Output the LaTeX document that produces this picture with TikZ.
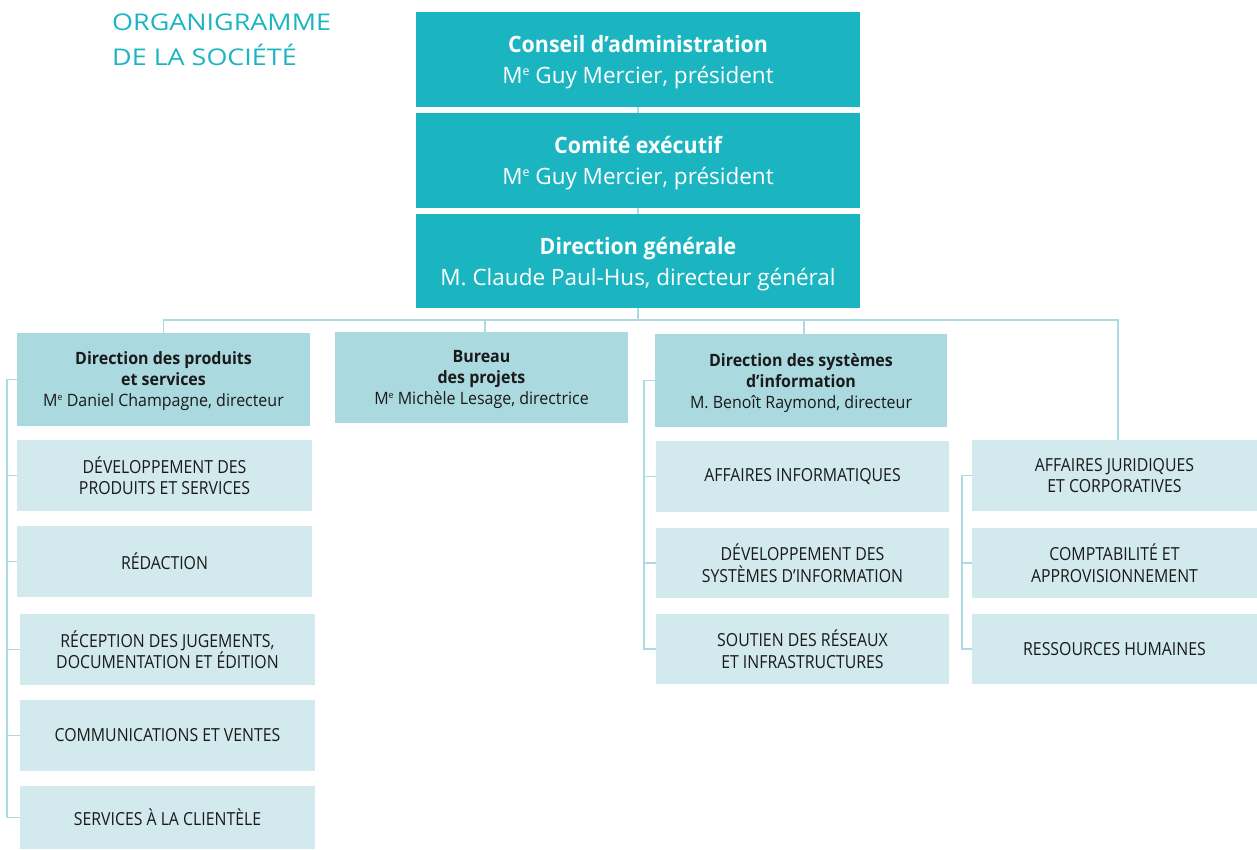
\documentclass[tikz,border=0pt]{standalone}
\usepackage{fontspec}
\usepackage{graphicx}
\setmainfont{Open Sans}
\newfontfamily\titlefont[FakeStretch=1.17]{Open Sans}
\newfontfamily\topfont[FakeStretch=0.95]{Open Sans}
\newfontfamily\topregfont[FakeStretch=1.0]{Open Sans}
\newfontfamily\midfont[FakeStretch=0.94]{Open Sans}
\newfontfamily\lowfont[FakeStretch=0.88]{Open Sans}
\definecolor{cTop}{HTML}{1BB5C2}
\definecolor{cMid}{HTML}{AAD9DF}
\definecolor{cLow}{HTML}{D2E9ED}
\definecolor{cLine}{HTML}{ABDCE3}
\definecolor{cText}{HTML}{1A1A1A}
\newcommand{\tb}[1]{{\topfont\bfseries #1}}
\newcommand{\mysupe}{\raisebox{0.36em}{\scalebox{0.55}{e}}}
\tikzset{
  topbox/.style={fill=cTop, text=white, minimum width=444pt, inner sep=0pt, align=center, text depth=0pt,
    font=\topregfont\fontsize{22.5}{31}\selectfont},
  midbox/.style={fill=cMid, text=cText, minimum width=293pt, minimum height=93pt, inner sep=0pt, align=center, text depth=0pt,
    font=\midfont\fontsize{17}{21}\selectfont},
  lowbox/.style={fill=cLow, text=cText, minimum height=71pt, inner sep=0pt, align=center,
    font=\lowfont\fontsize{18}{21.5}\selectfont},
  conn/.style={draw=cLine, line width=1.9pt},
  titletext/.style={anchor=base west, inner sep=0pt, text=cTop, font=\titlefont\fontsize{23}{30}\selectfont}
}
\begin{document}
\begin{tikzpicture}[x=1pt,y=-1pt]
\useasboundingbox (0,0) rectangle (1257,850);

% title
\node[titletext] (t1) at (112,30.5) {ORGANIGRAMME};
\node[titletext] (t2) at (112,65.5) {DE LA SOCIÉTÉ};

\coordinate (busL) at (163.5,320);
\coordinate (busR) at (1118,320);
\coordinate (lx) at (7,0);
\coordinate (mx) at (644,0);
\coordinate (rx) at (962,0);

% top boxes
\node[topbox, minimum height=95pt] (ca) at (638,59.5) {\tb{Conseil d’administration}\\M\mysupe{} Guy Mercier, président};
\node[topbox, minimum height=95pt] (ce) at (638,160.5) {\tb{Comité exécutif}\\M\mysupe{} Guy Mercier, président};
\node[topbox, minimum height=94pt] (dg) at (638,261) {\tb{Direction générale}\\M. Claude Paul-Hus, directeur général};

% level 2
\node[midbox] (dps) at (163.5,379.5) {\textbf{Direction des produits}\\\textbf{et services}\\M\mysupe{} Daniel Champagne, directeur};
\node[midbox, minimum height=91pt] (bp) at (481.5,377.5) {\textbf{Bureau}\\\textbf{des projets}\\M\mysupe{} Michèle Lesage, directrice};
\node[midbox, minimum width=292pt] (dsi) at (801,380.5) {\textbf{Direction des systèmes}\\\textbf{d’information}\\M. Benoît Raymond, directeur};

% left column
\node[lowbox, minimum width=295pt] (l1) at (164.5,475.5) {DÉVELOPPEMENT DES\\PRODUITS ET SERVICES};
\node[lowbox, minimum width=295pt] (l2) at (164.5,561.5) {RÉDACTION};
\node[lowbox, minimum width=295pt] (l3) at (167.5,649.5) {RÉCEPTION DES JUGEMENTS,\\DOCUMENTATION ET ÉDITION};
\node[lowbox, minimum width=295pt] (l4) at (167.5,735.5) {COMMUNICATIONS ET VENTES};
\node[lowbox, minimum width=295pt, minimum height=63pt] (l5) at (167.5,817.5) {SERVICES À LA CLIENTÈLE};

% middle column
\node[lowbox, minimum width=293pt] (m1) at (802.5,476.5) {AFFAIRES INFORMATIQUES};
\node[lowbox, minimum width=293pt, minimum height=70pt] (m2) at (802.5,563) {DÉVELOPPEMENT DES\\SYSTÈMES D’INFORMATION};
\node[lowbox, minimum width=293pt, minimum height=70pt] (m3) at (802.5,649) {SOUTIEN DES RÉSEAUX\\ET INFRASTRUCTURES};

% right column
\node[lowbox, minimum width=285pt] (r1) at (1114.5,475.5) {AFFAIRES JURIDIQUES\\ET CORPORATIVES};
\node[lowbox, minimum width=285pt, minimum height=70pt] (r2) at (1114.5,563) {COMPTABILITÉ ET\\APPROVISIONNEMENT};
\node[lowbox, minimum width=285pt, minimum height=70pt] (r3) at (1114.5,649) {RESSOURCES HUMAINES};

% connectors
\draw[conn] (ca.south) -- (ce.north);
\draw[conn] (ce.south) -- (dg.north);
\draw[conn] (dg.south) -- (dg.south |- busL);
\draw[conn] (dps.north) -- (busL) -- (busR) -- (busR |- r1.north);
\draw[conn] ([xshift=3.5pt]bp.north) -- ([xshift=3.5pt]bp.north |- busL);
\draw[conn] ([xshift=3pt]dsi.north) -- ([xshift=3pt]dsi.north |- busL);
% left tree
\draw[conn] (dps.west) -- (dps.west -| lx) -- (l5.west -| lx) -- (l5.west);
\foreach \n in {l1,l2,l3,l4} \draw[conn] (\n.west -| lx) -- (\n.west);
% middle tree
\draw[conn] (dsi.west) -- (dsi.west -| mx) -- (m3.west -| mx) -- (m3.west);
\foreach \n in {m1,m2} \draw[conn] (\n.west -| mx) -- (\n.west);
% right tree
\draw[conn] (r1.west) -- (r1.west -| rx) -- (r3.west -| rx) -- (r3.west);
\draw[conn] (r2.west -| rx) -- (r2.west);
\end{tikzpicture}
\end{document}
